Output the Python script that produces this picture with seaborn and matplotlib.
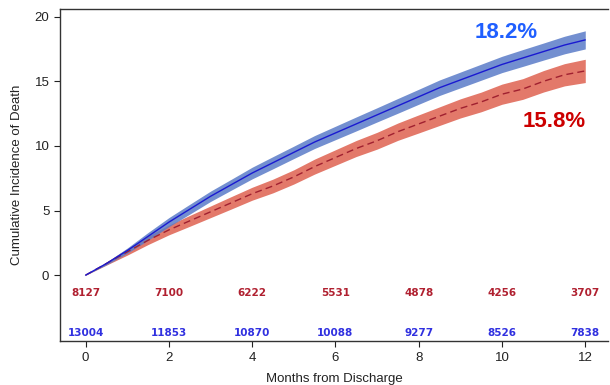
import matplotlib
matplotlib.use("Agg")
import matplotlib.pyplot as plt
import seaborn as sns
import pandas as pd
import numpy as np

months = [0, 0.5, 1, 1.5, 2, 2.5, 3, 3.5, 4, 4.5, 5, 5.5, 6, 6.5, 7, 7.5, 8, 8.5, 9, 9.5, 10, 10.5, 11, 11.5, 12]
blue_ci = [0, 0.9, 1.9, 3.0, 4.1, 5.1, 6.1, 7.0, 7.9, 8.7, 9.5, 10.3, 11.0, 11.7, 12.4, 13.1, 13.8, 14.5, 15.1, 15.7, 16.3, 16.8, 17.3, 17.8, 18.2]
red_ci = [0, 0.9, 1.8, 2.7, 3.5, 4.2, 4.9, 5.6, 6.3, 6.9, 7.6, 8.4, 9.1, 9.8, 10.4, 11.1, 11.7, 12.3, 12.9, 13.4, 14.0, 14.4, 15.0, 15.5, 15.8]
blue_hw = [0, 0.1, 0.2, 0.3, 0.35, 0.38, 0.4, 0.42, 0.45, 0.47, 0.48, 0.5, 0.52, 0.54, 0.55, 0.57, 0.58, 0.6, 0.61, 0.62, 0.63, 0.65, 0.66, 0.68, 0.7]
red_hw = [0, 0.12, 0.25, 0.33, 0.38, 0.42, 0.45, 0.48, 0.5, 0.53, 0.55, 0.58, 0.6, 0.62, 0.65, 0.67, 0.7, 0.72, 0.74, 0.76, 0.78, 0.8, 0.83, 0.86, 0.9]

risk_times = [0, 2, 4, 6, 8, 10, 12]
risk_red = [8127, 7100, 6222, 5531, 4878, 4256, 3707]
risk_blue = [13004, 11853, 10870, 10088, 9277, 8526, 7838]

sns.set_style("ticks")
plt.rcParams['font.family'] = ['Liberation Sans', 'DejaVu Sans']

fig = plt.figure(figsize=(6.1, 3.85), dpi=100)
ax = fig.add_axes([0.098, 0.114, 0.899, 0.863])

df = pd.DataFrame({"month": months + months,
                   "ci": blue_ci + red_ci,
                   "grp": ["blue"] * len(months) + ["red"] * len(months)})

b_lo = np.array(blue_ci) - np.array(blue_hw)
b_hi = np.array(blue_ci) + np.array(blue_hw)
r_lo = np.array(red_ci) - np.array(red_hw)
r_hi = np.array(red_ci) + np.array(red_hw)
ax.fill_between(months, r_lo, r_hi, color="#e06a5a", alpha=0.9, linewidth=0, zorder=1)
ax.fill_between(months, b_lo, b_hi, color="#5a7cc8", alpha=0.85, linewidth=0, zorder=2)

sns.lineplot(data=df[df.grp == "red"], x="month", y="ci", ax=ax, color="#a02030",
             linewidth=1.0, zorder=3)
ax.lines[-1].set_dashes([5, 3])
sns.lineplot(data=df[df.grp == "blue"], x="month", y="ci", ax=ax, color="#1a1ad0",
             linewidth=1.0, zorder=4)

for t, n in zip(risk_times, risk_red):
    ax.text(t, -1.35, str(n), color="#b02030", fontsize=7.5, ha="center", va="center",
            fontweight="bold", family="DejaVu Sans")
for t, n in zip(risk_times, risk_blue):
    ax.text(t, -4.5, str(n), color="#3030e0", fontsize=7.5, ha="center", va="center",
            fontweight="bold", family="DejaVu Sans")

ax.text(10.1, 18.75, "18.2%", color="#1f5fff", fontsize=16, fontweight="bold", ha="center", va="center")
ax.text(11.25, 11.85, "15.8%", color="#cc0000", fontsize=16, fontweight="bold", ha="center", va="center")

ax.set_xlim(-0.62, 12.55)
ax.set_ylim(-5.1, 20.6)
ax.set_xticks([0, 2, 4, 6, 8, 10, 12])
ax.set_yticks([0, 5, 10, 15, 20])
ax.tick_params(labelsize=9.5, colors="#222222", length=4)
ax.set_xlabel("Months from Discharge", fontsize=9.5, color="#222222", labelpad=6.5)
ax.set_ylabel("Cumulative Incidence of Death", fontsize=9.5, color="#222222", labelpad=8)
for s in ax.spines.values():
    s.set_color("#333333")
    s.set_linewidth(1.0)
ax.spines["right"].set_visible(False)

fig.savefig("out.png", dpi=100)
